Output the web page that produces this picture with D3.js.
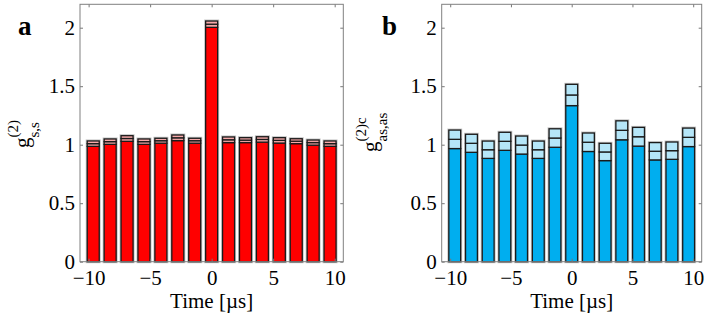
<!DOCTYPE html>
<html>
<head>
<meta charset="utf-8">
<script src="https://cdn.jsdelivr.net/npm/d3@7"></script>
<style>
  html, body { margin: 0; padding: 0; background: #fff; }
  svg { display: block; }
  text { font-family: "Liberation Serif", "Times New Roman", serif; fill: #000; }
</style>
</head>
<body>
<svg id="chart" width="706" height="315"></svg>
<script>
// ---- data ----
const times = [-9.625, -8.25, -6.875, -5.5, -4.125, -2.75, -1.375, 0, 1.375, 2.75, 4.125, 5.5, 6.875, 8.25, 9.625];
const valuesA = [1.009, 1.026, 1.053, 1.026, 1.034, 1.059, 1.034, 2.030, 1.042, 1.039, 1.045, 1.037, 1.030, 1.018, 1.009];
const errorsA = [0.023, 0.023, 0.024, 0.023, 0.021, 0.024, 0.021, 0.027, 0.024, 0.021, 0.023, 0.023, 0.021, 0.022, 0.023];
const valuesB = [1.046, 1.012, 0.957, 1.029, 0.997, 0.957, 1.057, 1.425, 1.021, 0.938, 1.123, 1.068, 0.944, 0.949, 1.063];
const errorsB = [0.079, 0.077, 0.074, 0.077, 0.077, 0.074, 0.079, 0.091, 0.079, 0.074, 0.081, 0.080, 0.074, 0.074, 0.079];
const xTicks = [-10, -5, 0, 5, 10];
const yTicks = [0, 0.5, 1, 1.5, 2];
const xDomain = [-10.7, 10.7];
const yDomain = [0, 2.2];
const binStep = 1.375;

const svg = d3.select("#chart");

const panels = [
  { letter: "a", L: 80, R: 343.3, values: valuesA, errors: errorsA,
    main: "#ff0000", light: "#f6a9a9",
    sup: "(2)", sub: "s,s", labX: 29, labY: 148, letterX: 18 },
  { letter: "b", L: 441.7, R: 701.7, values: valuesB, errors: errorsB,
    main: "#00aeef", light: "#b5e6f8",
    sup: "(2)c", sub: "as,as", labX: 377, labY: 152, letterX: 382 }
];

const T = 4.3, B = 261.7;

panels.forEach(p => {
  const x = d3.scaleLinear().domain(xDomain).range([p.L, p.R]);
  const y = d3.scaleLinear().domain(yDomain).range([B, T]);
  const g = svg.append("g");
  const bw = x(binStep * 0.71) - x(0);

  const rows = times.map((t, i) => ({ t, v: p.values[i], e: p.errors[i] }));

  // halo
  g.selectAll("rect.halo").data(rows).join("rect")
    .attr("class", "halo")
    .attr("x", d => x(d.t) - bw / 2)
    .attr("width", bw)
    .attr("y", d => y(d.v + d.e))
    .attr("height", d => y(0) - y(d.v + d.e))
    .attr("fill", "none")
    .attr("stroke", "#c4c4c4")
    .attr("stroke-width", 3);

  const segs = [];
  rows.forEach(d => {
    segs.push({ t: d.t, y0: 0, y1: d.v - d.e, fill: p.main });
    segs.push({ t: d.t, y0: d.v - d.e, y1: d.v, fill: p.light });
    segs.push({ t: d.t, y0: d.v, y1: d.v + d.e, fill: p.light });
  });
  g.selectAll("rect.seg").data(segs).join("rect")
    .attr("class", "seg")
    .attr("x", d => x(d.t) - bw / 2)
    .attr("width", bw)
    .attr("y", d => y(d.y1))
    .attr("height", d => y(d.y0) - y(d.y1))
    .attr("fill", d => d.fill)
    .attr("stroke", "#1a1a1a")
    .attr("stroke-width", 1.3);

  // axes (inward ticks)
  const fmt = d3.format("");
  const axB = g.append("g").attr("transform", `translate(0,${B})`)
    .call(d3.axisBottom(x).tickValues(xTicks).tickSize(-3).tickPadding(8.5).tickFormat(fmt));
  const axT = g.append("g").attr("transform", `translate(0,${T})`)
    .call(d3.axisTop(x).tickValues(xTicks).tickSize(-3).tickFormat(""));
  const axL = g.append("g").attr("transform", `translate(${p.L},0)`)
    .call(d3.axisLeft(y).tickValues(yTicks).tickSize(-3).tickPadding(5).tickFormat(fmt));
  const axR = g.append("g").attr("transform", `translate(${p.R},0)`)
    .call(d3.axisRight(y).tickValues(yTicks).tickSize(-3).tickFormat(""));
  [axB, axT, axL, axR].forEach(a => {
    a.attr("font-family", null);
    a.select(".domain").remove();
    a.selectAll(".tick line").attr("stroke", "#777").attr("stroke-width", 1);
    a.selectAll("text").attr("font-family", "'Liberation Serif', serif").attr("font-size", 21).attr("fill", "#000");
  });

  // box
  g.append("rect")
    .attr("x", p.L).attr("y", T)
    .attr("width", p.R - p.L).attr("height", B - T)
    .attr("fill", "none").attr("stroke", "#808080").attr("stroke-width", 1);

  // x label
  g.append("text")
    .attr("x", (p.L + p.R) / 2).attr("y", 308)
    .attr("text-anchor", "middle").attr("font-size", 21)
    .text("Time [µs]");

  // panel letter
  g.append("text")
    .attr("x", p.letterX).attr("y", 35)
    .attr("font-size", 27).attr("font-weight", "bold")
    .text(p.letter);

  // y label
  const yl = g.append("g").attr("transform", `translate(${p.labX},${p.labY}) rotate(-90)`);
  yl.append("text").attr("x", 0).attr("y", 0).attr("font-size", 21).text("g");
  yl.append("text").attr("x", 10.5).attr("y", -11).attr("font-size", 15).text(p.sup);
  yl.append("text").attr("x", 10.5).attr("y", 9.5).attr("font-size", 15).text(p.sub);
});
</script>
</body>
</html>
